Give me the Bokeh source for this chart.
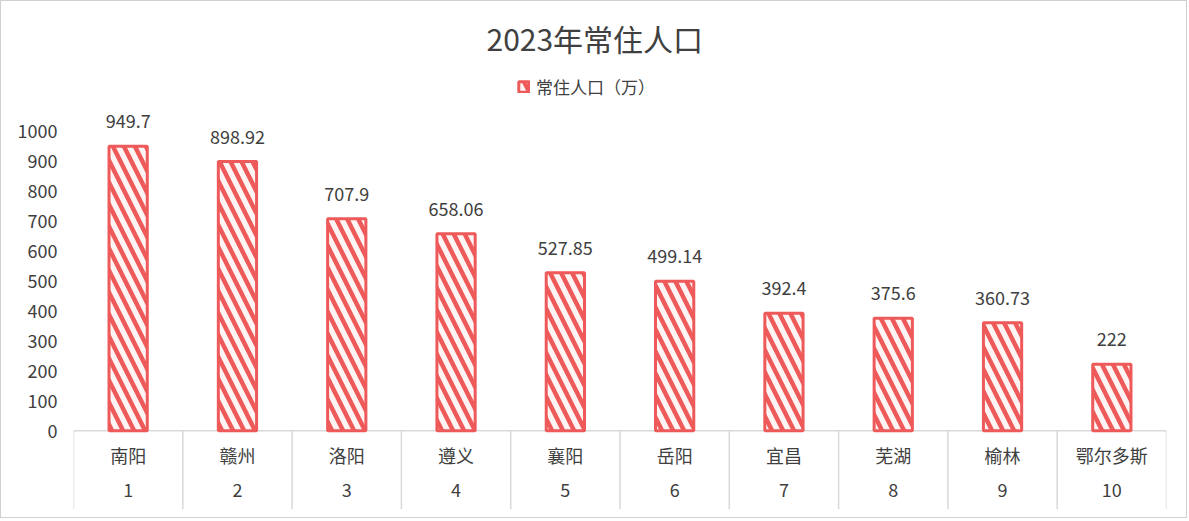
from bokeh.plotting import figure
from bokeh.models import ColumnDataSource, FixedTicker, Legend, LegendItem
from bokeh.core.properties import value
from bokeh.embed import file_html
from bokeh.resources import INLINE

# ---- data ----
cities = ["南阳", "赣州", "洛阳", "遵义", "襄阳", "岳阳", "宜昌", "芜湖", "榆林", "鄂尔多斯"]
ranks = ["1", "2", "3", "4", "5", "6", "7", "8", "9", "10"]
population = [949.7, 898.92, 707.9, 658.06, 527.85, 499.14, 392.4, 375.6, 360.73, 222]
labels = ["949.7", "898.92", "707.9", "658.06", "527.85", "499.14", "392.4", "375.6", "360.73", "222"]
y_ticks = [0, 100, 200, 300, 400, 500, 600, 700, 800, 900, 1000]
title_text = "2023年常住人口"
series_name = "常住人口（万）"

FONT = "Noto Sans CJK SC"
RED = "#EE5A5A"
TXT = "#404040"
GRID = "#D9D9D9"

n = len(cities)
xs = [i + 0.5 for i in range(n)]
src = ColumnDataSource(dict(x=xs, top=population, city=cities, rank=ranks, label=labels))

# y-range: 0 at 431px, 1000 at 130px; frame from 70px to 510px
px_per_unit = 301 / 1000
y_lo = -(510 - 431) / px_per_unit
y_hi = (431 - 70) / px_per_unit

p = figure(width=1187, height=518, output_backend="svg", toolbar_location=None,
           x_range=(0, n), y_range=(y_lo, y_hi),
           min_border_left=72, min_border_right=22, min_border_top=68, min_border_bottom=10)
p.styles = {"border": "1px solid #D0D0D0"}
p.outline_line_color = None
p.xgrid.visible = False
p.ygrid.visible = False
p.xaxis.visible = False

p.title.text = title_text
p.title.align = "left"
p.title.text_font = FONT
p.title.text_font_size = "30px"
p.title.text_font_style = "normal"
p.title.text_color = TXT
p.title.text_line_height = 0.8
p.title.offset = 413
p.title.standoff = 24

ya = p.yaxis[0]
ya.ticker = FixedTicker(ticks=y_ticks)
ya.axis_line_color = None
ya.major_tick_line_color = None
ya.minor_tick_line_color = None
ya.major_label_text_font = FONT
ya.major_label_text_font_size = "18px"
ya.major_label_text_color = TXT
ya.major_label_standoff = 10

# category separators and axis line
p.segment(x0=list(range(n + 1)), x1=list(range(n + 1)), y0=[0] * (n + 1), y1=[y_lo] * (n + 1),
          line_color=GRID, line_width=1.5)
p.segment(x0=[0], x1=[n], y0=[0], y1=[0], line_color=GRID, line_width=1.5)

bars = p.vbar(x="x", top="top", bottom=0, width=0.35, source=src,
              fill_color="#FFF4F4", line_color=RED, line_width=3,
              hatch_pattern="\\", hatch_color=RED, hatch_weight=4.5, hatch_scale=22)

p.text(x="x", y="top", text="label", source=src, text_align="center", text_baseline="bottom",
       y_offset=-18, text_font=value(FONT), text_font_size="18px", text_color=TXT)

p.text(x="x", y=-81, text="city", source=src, text_align="center", text_baseline="middle",
       text_font=value(FONT), text_font_size="18px", text_color=TXT)
p.text(x="x", y=-198, text="rank", source=src, text_align="center", text_baseline="middle",
       text_font=value(FONT), text_font_size="18px", text_color=TXT)

legend = Legend(items=[LegendItem(label=series_name, renderers=[bars])],
                location=(444, 410), orientation="horizontal",
                label_text_font=FONT, label_text_font_size="17px", label_text_color=TXT,
                glyph_width=13, glyph_height=13, padding=0, margin=0, spacing=0,
                border_line_color=None, background_fill_alpha=0, label_standoff=6)
p.add_layout(legend, "center")

open("out.html", "w").write(file_html(p, INLINE))
